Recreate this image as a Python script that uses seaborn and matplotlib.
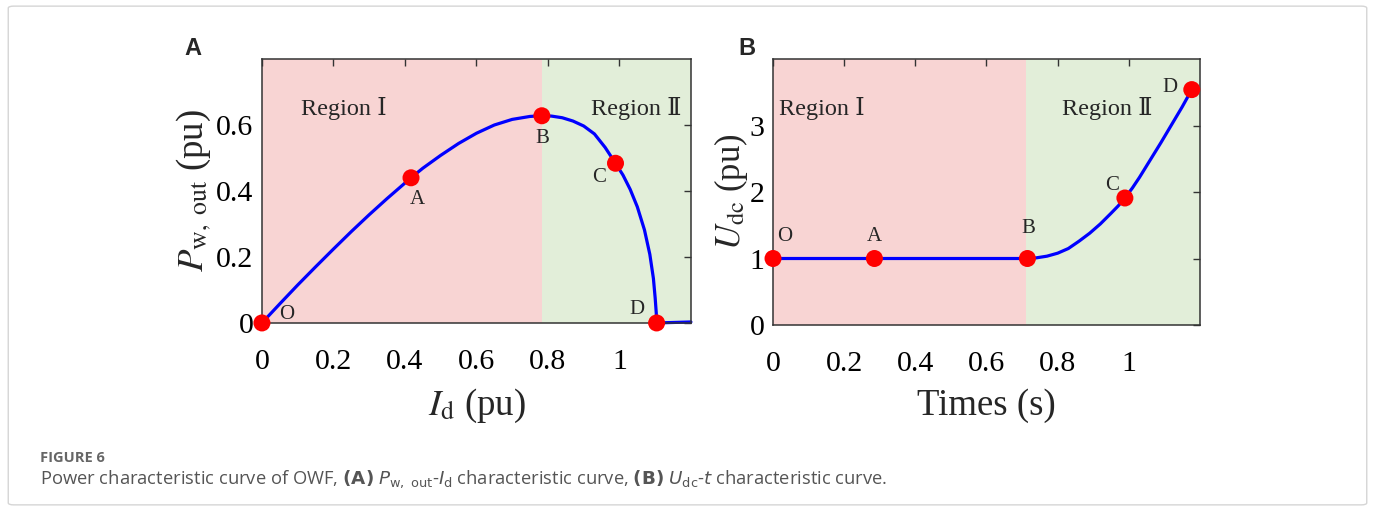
"""
Power characteristic curves of the OWF: P_w,out vs I_d and U_dc vs time.
"""

import numpy as np
import pandas as pd
import matplotlib
matplotlib.use("Agg")
import matplotlib.pyplot as plt
from matplotlib.patches import FancyBboxPatch
import seaborn as sns

# Panel A curve
ID_CURVE = [0.0, 0.05, 0.1, 0.15, 0.2, 0.25, 0.3, 0.35, 0.417, 0.45, 0.5,
            0.55, 0.6, 0.65, 0.7, 0.75, 0.783, 0.81, 0.84, 0.87, 0.9, 0.93,
            0.96, 0.989, 1.01, 1.03, 1.05, 1.07, 1.085, 1.095, 1.1, 1.103,
            1.104, 1.2]
P_CURVE = [0.0, 0.058, 0.115, 0.17, 0.224, 0.277, 0.328, 0.377, 0.44, 0.469,
           0.508, 0.544, 0.575, 0.6, 0.617, 0.626, 0.628, 0.627, 0.622,
           0.612, 0.597, 0.573, 0.532, 0.484, 0.448, 0.405, 0.352, 0.282,
           0.208, 0.135, 0.075, 0.03, 0.0, 0.003]

# Panel A marked points
A_LABELS = ["O", "A", "B", "C", "D"]
A_PTS_X = [0.0, 0.417, 0.783, 0.989, 1.104]
A_PTS_Y = [0.0, 0.44, 0.628, 0.484, 0.0]

# Panel B curve
T_CURVE = [0.0, 0.285, 0.715, 0.74, 0.77, 0.8, 0.83, 0.86, 0.89, 0.92,
           0.95, 0.97, 0.989, 1.01, 1.03, 1.06, 1.09, 1.12, 1.15, 1.177]
U_CURVE = [1.0, 1.0, 1.0, 1.01, 1.035, 1.08, 1.15, 1.26, 1.38, 1.52, 1.68,
           1.79, 1.91, 2.06, 2.22, 2.48, 2.74, 3.01, 3.28, 3.54]

# Panel B marked points
B_LABELS = ["O", "A", "B", "C", "D"]
B_PTS_X = [0.0, 0.285, 0.715, 0.989, 1.177]
B_PTS_Y = [1.0, 1.0, 1.0, 1.91, 3.54]

X_TICKS = [0, 0.2, 0.4, 0.6, 0.8, 1.0]
X_TICKLABELS = ["0", "0.2", "0.4", "0.6", "0.8", "1"]
A_YTICKS = [0, 0.2, 0.4, 0.6]
A_YTICKLABELS = ["0", "0.2", "0.4", "0.6"]
B_YTICKS = [0, 1, 2, 3]
B_YTICKLABELS = ["0", "1", "2", "3"]

PINK = "#F8D4D3"
GREEN = "#E2EED9"
SERIF = ["Liberation Serif", "DejaVu Serif"]

sns.set_theme(style="white")
plt.rcParams["font.family"] = SERIF
plt.rcParams["mathtext.fontset"] = "stix"


def style_axes(ax, yticks, yticklabels):
    ax.set_xticks(X_TICKS)
    ax.set_xticklabels(X_TICKLABELS)
    ax.set_yticks(yticks)
    ax.set_yticklabels(yticklabels)
    ax.tick_params(direction="in", length=5, width=1, color="#333333",
                   top=True, right=True, labelsize=21.5, pad=19,
                   labelcolor="black")
    ax.tick_params(axis="y", pad=6)
    for s in ax.spines.values():
        s.set_color("#333333")
        s.set_linewidth(1.1)
        s.set_zorder(5)


def draw_panel(ax, cx, cy, px, py, labels, label_pos, split, xlim, ylim):
    ax.set_facecolor("white")
    ax.axvspan(xlim[0], split, color=PINK, lw=0, zorder=0)
    ax.axvspan(split, xlim[1], color=GREEN, lw=0, zorder=0)
    curve = pd.DataFrame({"x": cx, "y": cy})
    sns.lineplot(data=curve, x="x", y="y", ax=ax, color="#0000FF",
                 linewidth=2.3, zorder=3, clip_on=False)
    pts = pd.DataFrame({"x": px, "y": py})
    sns.scatterplot(data=pts, x="x", y="y", ax=ax, color="#FF0000", s=150,
                    edgecolor="none", zorder=6, clip_on=False)
    for lab, (lx, ly) in zip(labels, label_pos):
        ax.text(lx, ly, lab, fontsize=15, ha="center", va="center",
                family=SERIF, zorder=7)
    ax.set_xlim(*xlim)
    ax.set_ylim(*ylim)


fig = plt.figure(figsize=(13.75, 5.11), dpi=100)

# ---- Panel A ----
ax1 = fig.add_axes([0.1905, 0.368, 0.312, 0.5165])
draw_panel(ax1, ID_CURVE, P_CURVE, A_PTS_X, A_PTS_Y, A_LABELS,
           [(0.068, 0.026), (0.435, 0.375), (0.785, 0.56), (0.942, 0.44),
            (1.05, 0.042)], 0.783, (0, 1.2), (0, 0.8))
ax1.text(0.23, 0.65, "Region Ⅰ", fontsize=17.5, ha="center", va="center",
         family=SERIF, zorder=7)
ax1.text(1.047, 0.65, "Region Ⅱ", fontsize=17.5, ha="center", va="center",
         family=SERIF, zorder=7)
style_axes(ax1, A_YTICKS, A_YTICKLABELS)
ax1.set_xlabel(r"$I_{\mathrm{d}}$ (pu)", fontsize=26.5, labelpad=8)
ax1.set_ylabel(r"$P_{\mathrm{w,\ out}}$ (pu)", fontsize=26.5, labelpad=2)

# ---- Panel B ----
ax2 = fig.add_axes([0.5622, 0.364, 0.3105, 0.5205])
draw_panel(ax2, T_CURVE, U_CURVE, B_PTS_X, B_PTS_Y, B_LABELS,
           [(0.034, 1.33), (0.286, 1.33), (0.718, 1.45), (0.953, 2.1),
            (1.116, 3.57)], 0.711, (0, 1.2), (0, 4))
ax2.text(0.137, 3.26, "Region Ⅰ", fontsize=17.5, ha="center", va="center",
         family=SERIF, zorder=7)
ax2.text(0.94, 3.26, "Region Ⅱ", fontsize=17.5, ha="center", va="center",
         family=SERIF, zorder=7)
style_axes(ax2, B_YTICKS, B_YTICKLABELS)
ax2.set_xlabel("Times (s)", fontsize=26.5, labelpad=8)
ax2.set_ylabel(r"$U_{\mathrm{dc}}$ (pu)", fontsize=25, labelpad=0)

# panel tags
fig.text(0.140, 0.905, "A", fontsize=17, fontweight="bold",
         family="Liberation Sans", ha="center", va="center")
fig.text(0.543, 0.905, "B", fontsize=17, fontweight="bold",
         family="Liberation Sans", ha="center", va="center")

# caption
fig.text(0.029, 0.104, "FIGURE 6", fontsize=10.5, fontweight="bold",
         color="#666666", family="Open Sans", va="center")
fig.text(0.029, 0.062,
         r"Power characteristic curve of OWF, $\mathbf{(A)}$ $P_{\mathrm{w,\ out}}$-$I_{\mathrm{d}}$ "
         r"characteristic curve, $\mathbf{(B)}$ $U_{\mathrm{dc}}$-$t$ characteristic curve.",
         fontsize=13.2, color="#555555", family="Open Sans", va="center",
         math_fontfamily="dejavusans")

# outer frame
frame = FancyBboxPatch((0.006, 0.012), 0.988, 0.976,
                       boxstyle="round,pad=0,rounding_size=0.004",
                       transform=fig.transFigure, fill=False,
                       edgecolor="#D5D5D5", linewidth=1.0)
fig.patches.append(frame)

fig.savefig("out.png", dpi=100)
